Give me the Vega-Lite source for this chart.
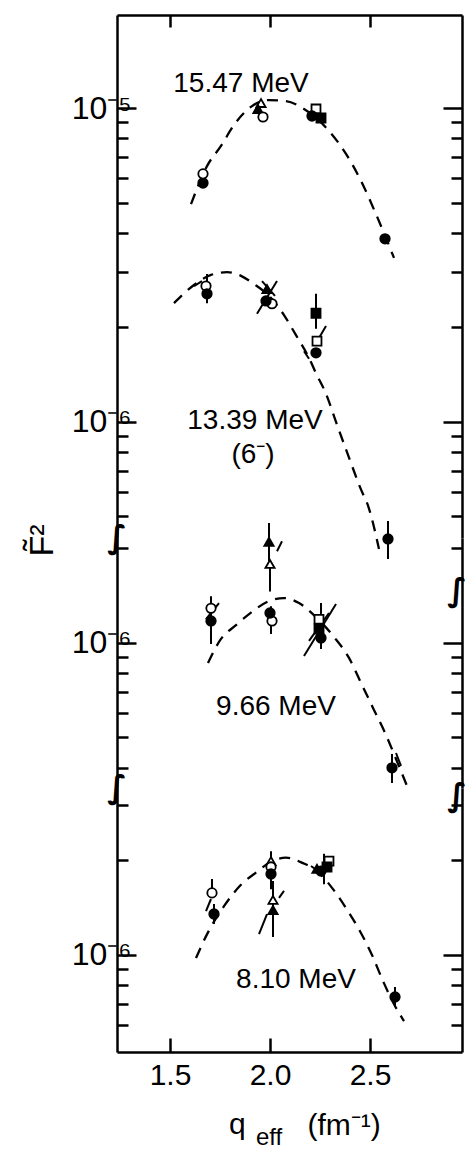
{
  "$schema": "https://vega.github.io/schema/vega-lite/v6.json",
  "padding": {"left": 25, "top": 13, "right": 0, "bottom": 0},
  "spacing": 0,
  "bounds": "flush",
  "config": {
    "view": {"stroke": null},
    "axis": {"domainColor": "black", "domainWidth": 2.5, "tickColor": "black", "tickWidth": 2.5, "labelFont": "Liberation Sans", "labelFontSize": 30, "labelColor": "black", "grid": false, "labelOverlap": false, "labelBound": false, "labelFlush": false, "titleFont": "Liberation Sans", "titleColor": "black", "titleFontWeight": "normal"}
  },
  "datasets": {
    "pts": [
      {"s": "A", "q": 1.665, "F2": 5.77e-6, "sym": "fc"},
      {"s": "A", "q": 1.665, "F2": 6.17e-6, "sym": "oc"},
      {"s": "A", "q": 1.955, "F2": 1.037e-5, "sym": "ot"},
      {"s": "A", "q": 1.94, "F2": 9.93e-6, "sym": "ft"},
      {"s": "A", "q": 1.965, "F2": 9.36e-6, "sym": "oc"},
      {"s": "A", "q": 2.23, "F2": 9.93e-6, "sym": "os"},
      {"s": "A", "q": 2.21, "F2": 9.43e-6, "sym": "fc"},
      {"s": "A", "q": 2.255, "F2": 9.29e-6, "sym": "fs"},
      {"s": "A", "q": 2.575, "F2": 3.83e-6, "sym": "fc"},
      {"s": "B", "q": 1.68, "F2": 2.71e-6, "sym": "oc"},
      {"s": "B", "q": 1.685, "F2": 2.56e-6, "sym": "fc"},
      {"s": "B", "q": 1.985, "F2": 2.65e-6, "sym": "ft"},
      {"s": "B", "q": 2.01, "F2": 2.38e-6, "sym": "oc"},
      {"s": "B", "q": 1.98, "F2": 2.43e-6, "sym": "fc"},
      {"s": "B", "q": 2.23, "F2": 2.22e-6, "sym": "fs"},
      {"s": "B", "q": 2.23, "F2": 1.66e-6, "sym": "fc"},
      {"s": "B", "q": 2.235, "F2": 1.81e-6, "sym": "os"},
      {"s": "B", "q": 2.59, "F2": 4.24e-7, "sym": "fc"},
      {"s": "C", "q": 1.705, "F2": 1.29e-6, "sym": "oc"},
      {"s": "C", "q": 1.705, "F2": 1.175e-6, "sym": "fc"},
      {"s": "C", "q": 1.995, "F2": 2.10e-6, "sym": "ft"},
      {"s": "C", "q": 2.0, "F2": 1.785e-6, "sym": "ot"},
      {"s": "C", "q": 2.01, "F2": 1.175e-6, "sym": "oc"},
      {"s": "C", "q": 2.0, "F2": 1.246e-6, "sym": "fc"},
      {"s": "C", "q": 2.245, "F2": 1.19e-6, "sym": "os"},
      {"s": "C", "q": 2.245, "F2": 1.108e-6, "sym": "fs"},
      {"s": "C", "q": 2.255, "F2": 1.037e-6, "sym": "fc"},
      {"s": "C", "q": 2.61, "F2": 4.0e-7, "sym": "fc"},
      {"s": "D", "q": 1.71, "F2": 1.576e-6, "sym": "oc"},
      {"s": "D", "q": 1.72, "F2": 1.35e-6, "sym": "fc"},
      {"s": "D", "q": 2.005, "F2": 1.99e-6, "sym": "ot"},
      {"s": "D", "q": 2.005, "F2": 1.906e-6, "sym": "oc"},
      {"s": "D", "q": 2.005, "F2": 1.81e-6, "sym": "fc"},
      {"s": "D", "q": 2.015, "F2": 1.497e-6, "sym": "ot"},
      {"s": "D", "q": 2.015, "F2": 1.39e-6, "sym": "ft"},
      {"s": "D", "q": 2.295, "F2": 1.99e-6, "sym": "os"},
      {"s": "D", "q": 2.235, "F2": 1.88e-6, "sym": "ft"},
      {"s": "D", "q": 2.255, "F2": 1.85e-6, "sym": "fc"},
      {"s": "D", "q": 2.285, "F2": 1.906e-6, "sym": "fs"},
      {"s": "D", "q": 2.625, "F2": 7.35e-7, "sym": "fc"}
    ],
    "bars": [
      {"s": "B", "q": 1.685, "F2": 2.39e-6, "F2b": 2.96e-6},
      {"s": "B", "q": 2.23, "F2": 1.98e-6, "F2b": 2.56e-6},
      {"s": "B", "q": 2.59, "F2": 3.66e-7, "F2b": 4.84e-7},
      {"s": "C", "q": 1.995, "F2": 1.82e-6, "F2b": 2.41e-6},
      {"s": "C", "q": 2.0, "F2": 1.46e-6, "F2b": 1.785e-6},
      {"s": "C", "q": 1.705, "F2": 0.993e-6, "F2b": 1.41e-6},
      {"s": "C", "q": 2.005, "F2": 1.068e-6, "F2b": 1.31e-6},
      {"s": "C", "q": 2.255, "F2": 0.957e-6, "F2b": 1.34e-6},
      {"s": "C", "q": 2.61, "F2": 3.58e-7, "F2b": 4.43e-7},
      {"s": "D", "q": 1.71, "F2": 1.576e-6, "F2b": 1.746e-6},
      {"s": "D", "q": 1.72, "F2": 1.255e-6, "F2b": 1.453e-6},
      {"s": "D", "q": 2.005, "F2": 1.62e-6, "F2b": 2.14e-6},
      {"s": "D", "q": 2.015, "F2": 1.141e-6, "F2b": 1.72e-6},
      {"s": "D", "q": 2.27, "F2": 1.68e-6, "F2b": 2.10e-6},
      {"s": "D", "q": 2.625, "F2": 6.83e-7, "F2b": 7.91e-7}
    ],
    "slants": [
      {"s": "B", "q": 1.62, "F2": 2.71e-6, "q2": 1.66, "F2b": 2.81e-6},
      {"s": "B", "q": 1.935, "F2": 2.21e-6, "q2": 2.035, "F2b": 2.81e-6},
      {"s": "B", "q": 1.96, "F2": 2.81e-6, "q2": 2.025, "F2b": 2.52e-6},
      {"s": "B", "q": 2.245, "F2": 1.85e-6, "q2": 2.28, "F2b": 2.02e-6},
      {"s": "B", "q": 2.17, "F2": 1.68e-6, "q2": 2.195, "F2b": 1.59e-6},
      {"s": "C", "q": 2.035, "F2": 1.96e-6, "q2": 2.06, "F2b": 2.11e-6},
      {"s": "C", "q": 1.68, "F2": 1.19e-6, "q2": 1.745, "F2b": 1.34e-6},
      {"s": "C", "q": 2.17, "F2": 9.09e-7, "q2": 2.33, "F2b": 1.33e-6},
      {"s": "C", "q": 2.195, "F2": 1.015e-6, "q2": 2.295, "F2b": 1.246e-6},
      {"s": "C", "q": 2.63, "F2": 4.46e-7, "q2": 2.655, "F2b": 4.06e-7},
      {"s": "D", "q": 1.68, "F2": 1.38e-6, "q2": 1.705, "F2b": 1.507e-6},
      {"s": "D", "q": 1.945, "F2": 1.166e-6, "q2": 1.985, "F2b": 1.35e-6},
      {"s": "D", "q": 2.045, "F2": 1.52e-6, "q2": 2.07, "F2b": 1.6e-6},
      {"s": "D", "q": 2.205, "F2": 1.92e-6, "q2": 2.255, "F2b": 1.82e-6}
    ],
    "curves": [
      {"s": "A", "q": 1.605, "F2": 4.94e-6}, {"s": "A", "q": 1.685, "F2": 6.53e-6}, {"s": "A", "q": 1.755, "F2": 7.57e-6}, {"s": "A", "q": 1.82, "F2": 8.83e-6}, {"s": "A", "q": 1.91, "F2": 1.014e-5}, {"s": "A", "q": 1.995, "F2": 1.06e-5}, {"s": "A", "q": 2.08, "F2": 1.052e-5}, {"s": "A", "q": 2.17, "F2": 9.93e-6}, {"s": "A", "q": 2.295, "F2": 8.45e-6}, {"s": "A", "q": 2.38, "F2": 7.14e-6}, {"s": "A", "q": 2.455, "F2": 5.86e-6}, {"s": "A", "q": 2.53, "F2": 4.59e-6}, {"s": "A", "q": 2.62, "F2": 3.33e-6},
      {"s": "B", "q": 1.52, "F2": 2.39e-6}, {"s": "B", "q": 1.62, "F2": 2.73e-6}, {"s": "B", "q": 1.705, "F2": 2.94e-6}, {"s": "B", "q": 1.785, "F2": 3.0e-6}, {"s": "B", "q": 1.855, "F2": 2.92e-6}, {"s": "B", "q": 1.92, "F2": 2.75e-6}, {"s": "B", "q": 1.995, "F2": 2.52e-6}, {"s": "B", "q": 2.07, "F2": 2.19e-6}, {"s": "B", "q": 2.13, "F2": 1.89e-6}, {"s": "B", "q": 2.195, "F2": 1.6e-6}, {"s": "B", "q": 2.23, "F2": 1.43e-6}, {"s": "B", "q": 2.28, "F2": 1.23e-6}, {"s": "B", "q": 2.33, "F2": 1.0e-6}, {"s": "B", "q": 2.395, "F2": 7.7e-7}, {"s": "B", "q": 2.45, "F2": 6.2e-7}, {"s": "B", "q": 2.495, "F2": 5.3e-7}, {"s": "B", "q": 2.545, "F2": 3.94e-7},
      {"s": "C", "q": 1.69, "F2": 8.64e-7}, {"s": "C", "q": 1.755, "F2": 1.03e-6}, {"s": "C", "q": 1.83, "F2": 1.14e-6}, {"s": "C", "q": 1.905, "F2": 1.25e-6}, {"s": "C", "q": 1.985, "F2": 1.35e-6}, {"s": "C", "q": 2.07, "F2": 1.39e-6}, {"s": "C", "q": 2.145, "F2": 1.34e-6}, {"s": "C", "q": 2.235, "F2": 1.2e-6}, {"s": "C", "q": 2.32, "F2": 1.045e-6}, {"s": "C", "q": 2.395, "F2": 8.96e-7}, {"s": "C", "q": 2.455, "F2": 7.46e-7}, {"s": "C", "q": 2.515, "F2": 6.21e-7}, {"s": "C", "q": 2.58, "F2": 5.09e-7}, {"s": "C", "q": 2.63, "F2": 4.27e-7}, {"s": "C", "q": 2.695, "F2": 3.38e-7},
      {"s": "D", "q": 1.63, "F2": 9.78e-7}, {"s": "D", "q": 1.69, "F2": 1.18e-6}, {"s": "D", "q": 1.77, "F2": 1.43e-6}, {"s": "D", "q": 1.85, "F2": 1.66e-6}, {"s": "D", "q": 1.935, "F2": 1.84e-6}, {"s": "D", "q": 2.005, "F2": 1.98e-6}, {"s": "D", "q": 2.08, "F2": 2.04e-6}, {"s": "D", "q": 2.165, "F2": 1.96e-6}, {"s": "D", "q": 2.235, "F2": 1.85e-6}, {"s": "D", "q": 2.315, "F2": 1.62e-6}, {"s": "D", "q": 2.38, "F2": 1.41e-6}, {"s": "D", "q": 2.45, "F2": 1.19e-6}, {"s": "D", "q": 2.51, "F2": 1.0e-6}, {"s": "D", "q": 2.565, "F2": 8.26e-7}, {"s": "D", "q": 2.625, "F2": 6.88e-7}, {"s": "D", "q": 2.67, "F2": 6.16e-7}
    ],
    "labels": [
      {"s": "A", "q": 1.855, "F2": 1.124e-5, "text": "15.47 MeV"},
      {"s": "B", "q": 1.925, "F2": 9.5e-7, "text": "13.39 MeV"},
      {"s": "B", "q": 1.915, "F2": 7.4e-7, "text": "(6⁻)"},
      {"s": "C", "q": 2.03, "F2": 5.9e-7, "text": "9.66 MeV"},
      {"s": "D", "q": 2.13, "F2": 7.85e-7, "text": "8.10 MeV"}
    ],
    "breaks": [
      {"s": "A", "q": 1.235, "F2": 4.27e-7},
      {"s": "C", "q": 1.235, "F2": 3.45e-7},
      {"s": "C", "q": 2.935, "F2": 1.464e-6},
      {"s": "D", "q": 2.935, "F2": 3.21e-6}
    ]
  },
  "vconcat": [
    {
      "width": 345, "height": 523,
      "layer": [
        {
          "data": {"name": "curves"}, "transform": [{"filter": "datum.s == 'A' || datum.s == 'B'"}],
          "mark": {"type": "line", "color": "black", "strokeWidth": 2.3, "strokeDash": [11, 8], "interpolate": "monotone"},
          "encoding": {
            "x": {"field": "q", "type": "quantitative", "scale": {"domain": [1.235, 2.96], "nice": false, "zero": false},
                  "axis": {"orient": "top", "values": [1.5, 2.0, 2.5], "labels": false, "tickSize": -12, "title": null, "domainWidth": 2.5, "tickWidth": 2.5, "domainColor": "black", "tickColor": "black"}},
            "y": {"field": "F2", "type": "quantitative", "scale": {"type": "log", "domain": [4.27e-7, 1.978e-5], "nice": false},
                  "axis": {"orient": "left", "values": [5e-7, 6e-7, 7e-7, 8e-7, 9e-7, 1e-6, 2e-6, 3e-6, 4e-6, 5e-6, 6e-6, 7e-6, 8e-6, 9e-6, 1e-5], "title": null,
                           "tickSize": {"condition": {"test": "abs(log(datum.value)/LN10 - round(log(datum.value)/LN10)) < 0.01", "value": -19}, "value": -11},
                           "labelPadding": 5, "labelBaseline": "middle", "labelFontSize": 32, "labelFont": "Liberation Sans Narrow, Liberation Sans",
                           "labelExpr": "abs(log(datum.value)/LN10 - round(log(datum.value)/LN10)) < 0.01 ? (round(log(datum.value)/LN10) == -5 ? '10⁻⁵' : '10⁻⁶') : ''"}},
            "detail": {"field": "s"}
          }
        },
        {
          "data": {"name": "bars"}, "transform": [{"filter": "datum.s == 'A' || datum.s == 'B'"}],
          "mark": {"type": "rule", "color": "black", "strokeWidth": 2},
          "encoding": {
            "x": {"field": "q", "type": "quantitative", "scale": {"domain": [1.235, 2.96], "nice": false, "zero": false}, "axis": null},
            "y": {"field": "F2", "type": "quantitative", "scale": {"type": "log", "domain": [4.27e-7, 1.978e-5], "nice": false},
                  "axis": {"orient": "right", "values": [5e-7, 6e-7, 7e-7, 8e-7, 9e-7, 1e-6, 2e-6, 3e-6, 4e-6, 5e-6, 6e-6, 7e-6, 8e-6, 9e-6, 1e-5], "title": null, "labels": false,
                           "tickSize": {"condition": {"test": "abs(log(datum.value)/LN10 - round(log(datum.value)/LN10)) < 0.01", "value": -19}, "value": -11}}},
            "y2": {"field": "F2b"}
          }
        },
        {
          "data": {"name": "slants"}, "transform": [{"filter": "datum.s == 'A' || datum.s == 'B'"}],
          "mark": {"type": "rule", "color": "black", "strokeWidth": 2},
          "encoding": {
            "x": {"field": "q", "type": "quantitative", "scale": {"domain": [1.235, 2.96], "nice": false, "zero": false}, "axis": null},
            "x2": {"field": "q2"},
            "y": {"field": "F2", "type": "quantitative", "scale": {"type": "log", "domain": [4.27e-7, 1.978e-5], "nice": false}, "axis": null},
            "y2": {"field": "F2b"}
          }
        },
        {
          "data": {"name": "pts"}, "transform": [{"filter": "datum.s == 'A' || datum.s == 'B'"}],
          "mark": {"type": "point", "filled": true, "stroke": "black", "strokeWidth": 1.8, "opacity": 1},
          "encoding": {
            "x": {"field": "q", "type": "quantitative", "scale": {"domain": [1.235, 2.96], "nice": false, "zero": false}, "axis": null},
            "y": {"field": "F2", "type": "quantitative", "scale": {"type": "log", "domain": [4.27e-7, 1.978e-5], "nice": false}, "axis": null},
            "shape": {"field": "sym", "type": "nominal", "scale": {"domain": ["fc", "oc", "ft", "ot", "fs", "os"], "range": ["circle", "circle", "triangle-up", "triangle-up", "square", "square"]}, "legend": null},
            "fill": {"field": "sym", "type": "nominal", "scale": {"domain": ["fc", "oc", "ft", "ot", "fs", "os"], "range": ["black", "white", "black", "white", "black", "white"]}, "legend": null},
            "size": {"field": "sym", "type": "ordinal", "scale": {"domain": ["fc", "oc", "ft", "ot", "fs", "os"], "range": [90, 80, 120, 110, 100, 90]}, "legend": null}
          }
        },
        {
          "data": {"name": "labels"}, "transform": [{"filter": "datum.s == 'A' || datum.s == 'B'"}],
          "mark": {"type": "text", "font": "Liberation Sans", "fontSize": 28, "align": "center", "baseline": "alphabetic", "color": "black"},
          "encoding": {
            "x": {"field": "q", "type": "quantitative", "scale": {"domain": [1.235, 2.96], "nice": false, "zero": false}, "axis": null},
            "y": {"field": "F2", "type": "quantitative", "scale": {"type": "log", "domain": [4.27e-7, 1.978e-5], "nice": false}, "axis": null},
            "text": {"field": "text"}
          }
        },
        {
          "data": {"name": "breaks"}, "transform": [{"filter": "datum.s == 'A'"}],
          "mark": {"type": "text", "font": "DejaVu Sans", "fontSize": 32, "fontWeight": "bold", "align": "center", "baseline": "middle", "color": "black", "text": "∫"},
          "encoding": {
            "x": {"field": "q", "type": "quantitative", "scale": {"domain": [1.235, 2.96], "nice": false, "zero": false}, "axis": null},
            "y": {"field": "F2", "type": "quantitative", "scale": {"type": "log", "domain": [4.27e-7, 1.978e-5], "nice": false}, "axis": null}
          }
        }
      ],
      "resolve": {"axis": {"x": "independent", "y": "independent"}}
    },
    {
      "width": 345, "height": 250,
      "layer": [
        {
          "data": {"name": "curves"}, "transform": [{"filter": "datum.s == 'C'"}],
          "mark": {"type": "line", "color": "black", "strokeWidth": 2.3, "strokeDash": [11, 8], "interpolate": "monotone"},
          "encoding": {
            "x": {"field": "q", "type": "quantitative", "scale": {"domain": [1.235, 2.96], "nice": false, "zero": false}, "axis": null},
            "y": {"field": "F2", "type": "quantitative", "scale": {"type": "log", "domain": [3.45e-7, 2.16e-6], "nice": false},
                  "axis": {"orient": "left", "values": [4e-7, 5e-7, 6e-7, 7e-7, 8e-7, 9e-7, 1e-6, 2e-6],
                           "title": "F̃²", "titleFontSize": 34, "titleFont": "Liberation Sans", "titleAngle": -90, "titleX": -65, "titleY": 2, "titleAlign": "center", "titleBaseline": "alphabetic",
                           "tickSize": {"condition": {"test": "abs(log(datum.value)/LN10 - round(log(datum.value)/LN10)) < 0.01", "value": -19}, "value": -11},
                           "labelPadding": 5, "labelBaseline": "middle", "labelFontSize": 32, "labelFont": "Liberation Sans Narrow, Liberation Sans",
                           "labelExpr": "abs(log(datum.value)/LN10 - round(log(datum.value)/LN10)) < 0.01 ? '10⁻⁶' : ''"}}
          }
        },
        {
          "data": {"name": "bars"}, "transform": [{"filter": "datum.s == 'C'"}],
          "mark": {"type": "rule", "color": "black", "strokeWidth": 2},
          "encoding": {
            "x": {"field": "q", "type": "quantitative", "scale": {"domain": [1.235, 2.96], "nice": false, "zero": false}, "axis": null},
            "y": {"field": "F2", "type": "quantitative", "scale": {"type": "log", "domain": [3.45e-7, 2.16e-6], "nice": false},
                  "axis": {"orient": "right", "values": [4e-7, 5e-7, 6e-7, 7e-7, 8e-7, 9e-7, 1e-6, 2e-6], "title": null, "labels": false,
                           "tickSize": {"condition": {"test": "abs(log(datum.value)/LN10 - round(log(datum.value)/LN10)) < 0.01", "value": -19}, "value": -11}}},
            "y2": {"field": "F2b"}
          }
        },
        {
          "data": {"name": "slants"}, "transform": [{"filter": "datum.s == 'C'"}],
          "mark": {"type": "rule", "color": "black", "strokeWidth": 2},
          "encoding": {
            "x": {"field": "q", "type": "quantitative", "scale": {"domain": [1.235, 2.96], "nice": false, "zero": false}, "axis": null},
            "x2": {"field": "q2"},
            "y": {"field": "F2", "type": "quantitative", "scale": {"type": "log", "domain": [3.45e-7, 2.16e-6], "nice": false}, "axis": null},
            "y2": {"field": "F2b"}
          }
        },
        {
          "data": {"name": "pts"}, "transform": [{"filter": "datum.s == 'C'"}],
          "mark": {"type": "point", "filled": true, "stroke": "black", "strokeWidth": 1.8, "opacity": 1},
          "encoding": {
            "x": {"field": "q", "type": "quantitative", "scale": {"domain": [1.235, 2.96], "nice": false, "zero": false}, "axis": null},
            "y": {"field": "F2", "type": "quantitative", "scale": {"type": "log", "domain": [3.45e-7, 2.16e-6], "nice": false}, "axis": null},
            "shape": {"field": "sym", "type": "nominal", "scale": {"domain": ["fc", "oc", "ft", "ot", "fs", "os"], "range": ["circle", "circle", "triangle-up", "triangle-up", "square", "square"]}, "legend": null},
            "fill": {"field": "sym", "type": "nominal", "scale": {"domain": ["fc", "oc", "ft", "ot", "fs", "os"], "range": ["black", "white", "black", "white", "black", "white"]}, "legend": null},
            "size": {"field": "sym", "type": "ordinal", "scale": {"domain": ["fc", "oc", "ft", "ot", "fs", "os"], "range": [90, 80, 120, 110, 100, 90]}, "legend": null}
          }
        },
        {
          "data": {"name": "labels"}, "transform": [{"filter": "datum.s == 'C'"}],
          "mark": {"type": "text", "font": "Liberation Sans", "fontSize": 28, "align": "center", "baseline": "alphabetic", "color": "black"},
          "encoding": {
            "x": {"field": "q", "type": "quantitative", "scale": {"domain": [1.235, 2.96], "nice": false, "zero": false}, "axis": null},
            "y": {"field": "F2", "type": "quantitative", "scale": {"type": "log", "domain": [3.45e-7, 2.16e-6], "nice": false}, "axis": null},
            "text": {"field": "text"}
          }
        },
        {
          "data": {"name": "breaks"}, "transform": [{"filter": "datum.s == 'C'"}],
          "mark": {"type": "text", "font": "DejaVu Sans", "fontSize": 32, "fontWeight": "bold", "align": "center", "baseline": "middle", "color": "black", "text": "∫"},
          "encoding": {
            "x": {"field": "q", "type": "quantitative", "scale": {"domain": [1.235, 2.96], "nice": false, "zero": false}, "axis": null},
            "y": {"field": "F2", "type": "quantitative", "scale": {"type": "log", "domain": [3.45e-7, 2.16e-6], "nice": false}, "axis": null}
          }
        }
      ],
      "resolve": {"axis": {"x": "independent", "y": "independent"}}
    },
    {
      "width": 345, "height": 264,
      "layer": [
        {
          "data": {"name": "curves"}, "transform": [{"filter": "datum.s == 'D'"}],
          "mark": {"type": "line", "color": "black", "strokeWidth": 2.3, "strokeDash": [11, 8], "interpolate": "monotone"},
          "encoding": {
            "x": {"field": "q", "type": "quantitative", "scale": {"domain": [1.235, 2.96], "nice": false, "zero": false},
                  "axis": {"orient": "bottom", "values": [1.5, 2.0, 2.5], "format": ".1f", "tickSize": -14, "labelPadding": 22, "labelFontSize": 30, "labelFont": "Liberation Sans",
                           "domainWidth": 2.5, "tickWidth": 2.5, "domainColor": "black", "tickColor": "black",
                           "title": "(fm⁻¹)", "titleFontSize": 30, "titleFont": "Liberation Sans", "titleX": 190, "titleY": 82, "titleAlign": "left", "titleBaseline": "alphabetic"}},
            "y": {"field": "F2", "type": "quantitative", "scale": {"type": "log", "domain": [4.91e-7, 3.40e-6], "nice": false},
                  "axis": {"orient": "left", "values": [6e-7, 7e-7, 8e-7, 9e-7, 1e-6, 2e-6, 3e-6], "title": null,
                           "tickSize": {"condition": {"test": "abs(log(datum.value)/LN10 - round(log(datum.value)/LN10)) < 0.01", "value": -19}, "value": -11},
                           "labelPadding": 5, "labelBaseline": "middle", "labelFontSize": 32, "labelFont": "Liberation Sans Narrow, Liberation Sans",
                           "labelExpr": "abs(log(datum.value)/LN10 - round(log(datum.value)/LN10)) < 0.01 ? '10⁻⁶' : ''"}}
          }
        },
        {
          "data": {"name": "bars"}, "transform": [{"filter": "datum.s == 'D'"}],
          "mark": {"type": "rule", "color": "black", "strokeWidth": 2},
          "encoding": {
            "x": {"field": "q", "type": "quantitative", "scale": {"domain": [1.235, 2.96], "nice": false, "zero": false}, "axis": null},
            "y": {"field": "F2", "type": "quantitative", "scale": {"type": "log", "domain": [4.91e-7, 3.40e-6], "nice": false},
                  "axis": {"orient": "right", "values": [6e-7, 7e-7, 8e-7, 9e-7, 1e-6, 2e-6, 3e-6], "title": null, "labels": false,
                           "tickSize": {"condition": {"test": "abs(log(datum.value)/LN10 - round(log(datum.value)/LN10)) < 0.01", "value": -19}, "value": -11}}},
            "y2": {"field": "F2b"}
          }
        },
        {
          "data": {"name": "slants"}, "transform": [{"filter": "datum.s == 'D'"}],
          "mark": {"type": "rule", "color": "black", "strokeWidth": 2},
          "encoding": {
            "x": {"field": "q", "type": "quantitative", "scale": {"domain": [1.235, 2.96], "nice": false, "zero": false}, "axis": null},
            "x2": {"field": "q2"},
            "y": {"field": "F2", "type": "quantitative", "scale": {"type": "log", "domain": [4.91e-7, 3.40e-6], "nice": false}, "axis": null},
            "y2": {"field": "F2b"}
          }
        },
        {
          "data": {"name": "pts"}, "transform": [{"filter": "datum.s == 'D'"}],
          "mark": {"type": "point", "filled": true, "stroke": "black", "strokeWidth": 1.8, "opacity": 1},
          "encoding": {
            "x": {"field": "q", "type": "quantitative", "scale": {"domain": [1.235, 2.96], "nice": false, "zero": false}, "axis": null},
            "y": {"field": "F2", "type": "quantitative", "scale": {"type": "log", "domain": [4.91e-7, 3.40e-6], "nice": false}, "axis": null},
            "shape": {"field": "sym", "type": "nominal", "scale": {"domain": ["fc", "oc", "ft", "ot", "fs", "os"], "range": ["circle", "circle", "triangle-up", "triangle-up", "square", "square"]}, "legend": null},
            "fill": {"field": "sym", "type": "nominal", "scale": {"domain": ["fc", "oc", "ft", "ot", "fs", "os"], "range": ["black", "white", "black", "white", "black", "white"]}, "legend": null},
            "size": {"field": "sym", "type": "ordinal", "scale": {"domain": ["fc", "oc", "ft", "ot", "fs", "os"], "range": [90, 80, 120, 110, 100, 90]}, "legend": null}
          }
        },
        {
          "data": {"name": "labels"}, "transform": [{"filter": "datum.s == 'D'"}],
          "mark": {"type": "text", "font": "Liberation Sans", "fontSize": 28, "align": "center", "baseline": "alphabetic", "color": "black"},
          "encoding": {
            "x": {"field": "q", "type": "quantitative", "scale": {"domain": [1.235, 2.96], "nice": false, "zero": false}, "axis": null},
            "y": {"field": "F2", "type": "quantitative", "scale": {"type": "log", "domain": [4.91e-7, 3.40e-6], "nice": false}, "axis": null},
            "text": {"field": "text"}
          }
        },
        {
          "data": {"values": [{"q": 1.795, "F2": 2.69e-7, "text": "q"}]},
          "mark": {"type": "text", "font": "Liberation Sans", "fontSize": 30, "align": "left", "baseline": "alphabetic", "color": "black"},
          "encoding": {
            "x": {"field": "q", "type": "quantitative", "scale": {"domain": [1.235, 2.96], "nice": false, "zero": false}, "axis": null},
            "y": {"field": "F2", "type": "quantitative", "scale": {"type": "log", "domain": [4.91e-7, 3.40e-6], "nice": false}, "axis": null},
            "text": {"field": "text"}
          }
        },
        {
          "data": {"values": [{"q": 1.995, "F2": 2.48e-7, "text": "eff"}]},
          "mark": {"type": "text", "font": "Liberation Sans", "fontSize": 24, "align": "center", "baseline": "alphabetic", "color": "black"},
          "encoding": {
            "x": {"field": "q", "type": "quantitative", "scale": {"domain": [1.235, 2.96], "nice": false, "zero": false}, "axis": null},
            "y": {"field": "F2", "type": "quantitative", "scale": {"type": "log", "domain": [4.91e-7, 3.40e-6], "nice": false}, "axis": null},
            "text": {"field": "text"}
          }
        },
        {
          "data": {"name": "breaks"}, "transform": [{"filter": "datum.s == 'D'"}],
          "mark": {"type": "text", "font": "DejaVu Sans", "fontSize": 32, "fontWeight": "bold", "align": "center", "baseline": "middle", "color": "black", "text": "∫"},
          "encoding": {
            "x": {"field": "q", "type": "quantitative", "scale": {"domain": [1.235, 2.96], "nice": false, "zero": false}, "axis": null},
            "y": {"field": "F2", "type": "quantitative", "scale": {"type": "log", "domain": [4.91e-7, 3.40e-6], "nice": false}, "axis": null}
          }
        }
      ],
      "resolve": {"axis": {"x": "independent", "y": "independent"}}
    }
  ]
}
